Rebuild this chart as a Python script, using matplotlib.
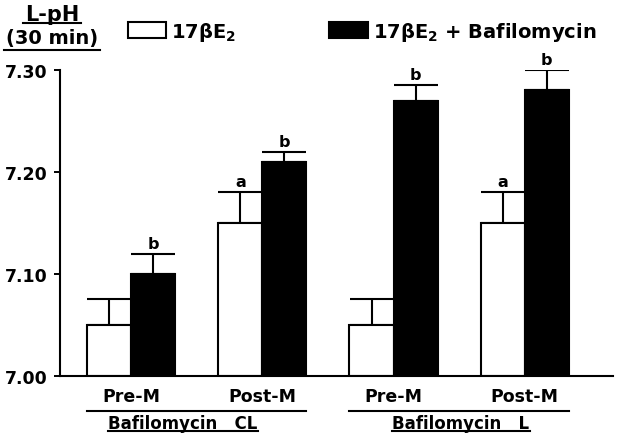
import matplotlib
matplotlib.use("Agg")
import matplotlib.pyplot as plt
from matplotlib.lines import Line2D
import matplotlib.transforms as mtransforms
import numpy as np

plt.rcParams['font.family'] = ['DejaVu Sans']
plt.rcParams['font.weight'] = 'bold'
plt.rcParams['mathtext.fontset'] = 'dejavusans'
plt.rcParams['mathtext.default'] = 'bf'

# ---- data ----
groups = ["Pre-M", "Post-M", "Pre-M", "Post-M"]
e2_mean = [7.05, 7.15, 7.05, 7.15]
e2_err = [0.025, 0.03, 0.025, 0.03]
baf_mean = [7.10, 7.21, 7.27, 7.28]
baf_err = [0.02, 0.01, 0.015, 0.02]
e2_letters = ["", "a", "", "a"]
baf_letters = ["b", "b", "b", "b"]
series_labels = ["17βE$_2$", "17βE$_2$ + Bafilomycin"]
section_labels = ["Bafilomycin   CL", "Bafilomycin   L"]
section_groups = [(0, 1), (2, 3)]
yticks = [7.00, 7.10, 7.20, 7.30]
ytick_labels = ["7.00", "7.10", "7.20", "7.30"]

W, H = 618, 439
fig = plt.figure(figsize=(W/100, H/100), dpi=100)
ax = fig.add_axes([60/W, 1-377/H, (613-60)/W, (377-71)/H])

x = np.arange(len(groups))
bw = 0.336
lw = 1.5
b1 = ax.bar(x - bw/2, np.array(e2_mean) - 7.0, bw, bottom=7.0, color='white',
            edgecolor='black', linewidth=lw, zorder=2)
b2 = ax.bar(x + bw/2, np.array(baf_mean) - 7.0, bw, bottom=7.0, color='black',
            edgecolor='black', linewidth=lw, zorder=2)
ax.errorbar(x - bw/2, e2_mean, yerr=[np.zeros(4), e2_err], fmt='none',
            ecolor='black', elinewidth=lw, capsize=16, capthick=lw, zorder=1)
ax.errorbar(x + bw/2, baf_mean, yerr=[np.zeros(4), baf_err], fmt='none',
            ecolor='black', elinewidth=lw, capsize=16, capthick=lw, zorder=1)

for xs, means, errs, lets in [(x - bw/2, e2_mean, e2_err, e2_letters),
                              (x + bw/2, baf_mean, baf_err, baf_letters)]:
    for xi, m, e, t in zip(xs, means, errs, lets):
        if t:
            ax.text(xi, m + e + 0.003, t, ha='center', va='bottom', fontsize=11.5,
                    fontweight='bold', clip_on=False)

ax.set_xlim(-0.542, 3.672)
ax.set_ylim(7.0, 7.3)
ax.set_yticks(yticks)
ax.set_yticklabels(ytick_labels, fontsize=12.5, fontweight='bold')
ax.tick_params(axis='y', direction='out', length=4, width=1.4, pad=5)
ax.spines['top'].set_visible(False)
ax.spines['right'].set_visible(False)
for s in ['left', 'bottom']:
    ax.spines[s].set_linewidth(1.5)

ax.set_xticks(x)
ax.set_xticklabels(groups, fontsize=12.5, fontweight='bold')
ax.tick_params(axis='x', length=0, pad=8)

# legend
leg = ax.legend([b1, b2], series_labels, ncol=2, frameon=False,
                loc='upper left', bbox_to_anchor=(128/W, 1-21/H),
                bbox_transform=fig.transFigure, fontsize=14,
                handlelength=1.96, handleheight=0.88, handletextpad=0.26,
                columnspacing=4.8, borderpad=0, borderaxespad=0)
for t in leg.get_texts():
    t.set_fontweight('bold')

fig.canvas.draw()
renderer = fig.canvas.get_renderer()

def underline(txt, ypix, lwid=1.5, extra=0):
    bb = txt.get_window_extent(renderer)
    fig.add_artist(Line2D([(bb.x0-extra)/W, (bb.x1+extra)/W], [1-ypix/H, 1-ypix/H],
                          color='black', linewidth=lwid, transform=fig.transFigure))

t1 = fig.text(52/W, 1-21/H, "L-pH", ha='center', va='baseline', fontsize=15,
              fontweight='bold')
t2 = fig.text(52/W, 1-44/H, "(30 min)", ha='center', va='baseline', fontsize=14,
              fontweight='bold')
fig.canvas.draw()
underline(t1, 24, extra=2)
underline(t2, 51, extra=2)

# section lines (span from first white bar to last black bar of the section)
trans = mtransforms.blended_transform_factory(ax.transData, fig.transFigure)
label_x = [183, 461]
for (g0, g1), lab, lx in zip(section_groups, section_labels, label_x):
    fig.add_artist(Line2D([x[g0] - bw, x[g1] + bw], [1-412/H, 1-412/H],
                          color='black', linewidth=1.5, transform=trans))
    t = fig.text(lx/W, 1-429/H, lab, ha='center', va='baseline',
                 fontsize=12, fontweight='bold')
    fig.canvas.draw()
    underline(t, 432)

fig.savefig("out.png", dpi=100)
